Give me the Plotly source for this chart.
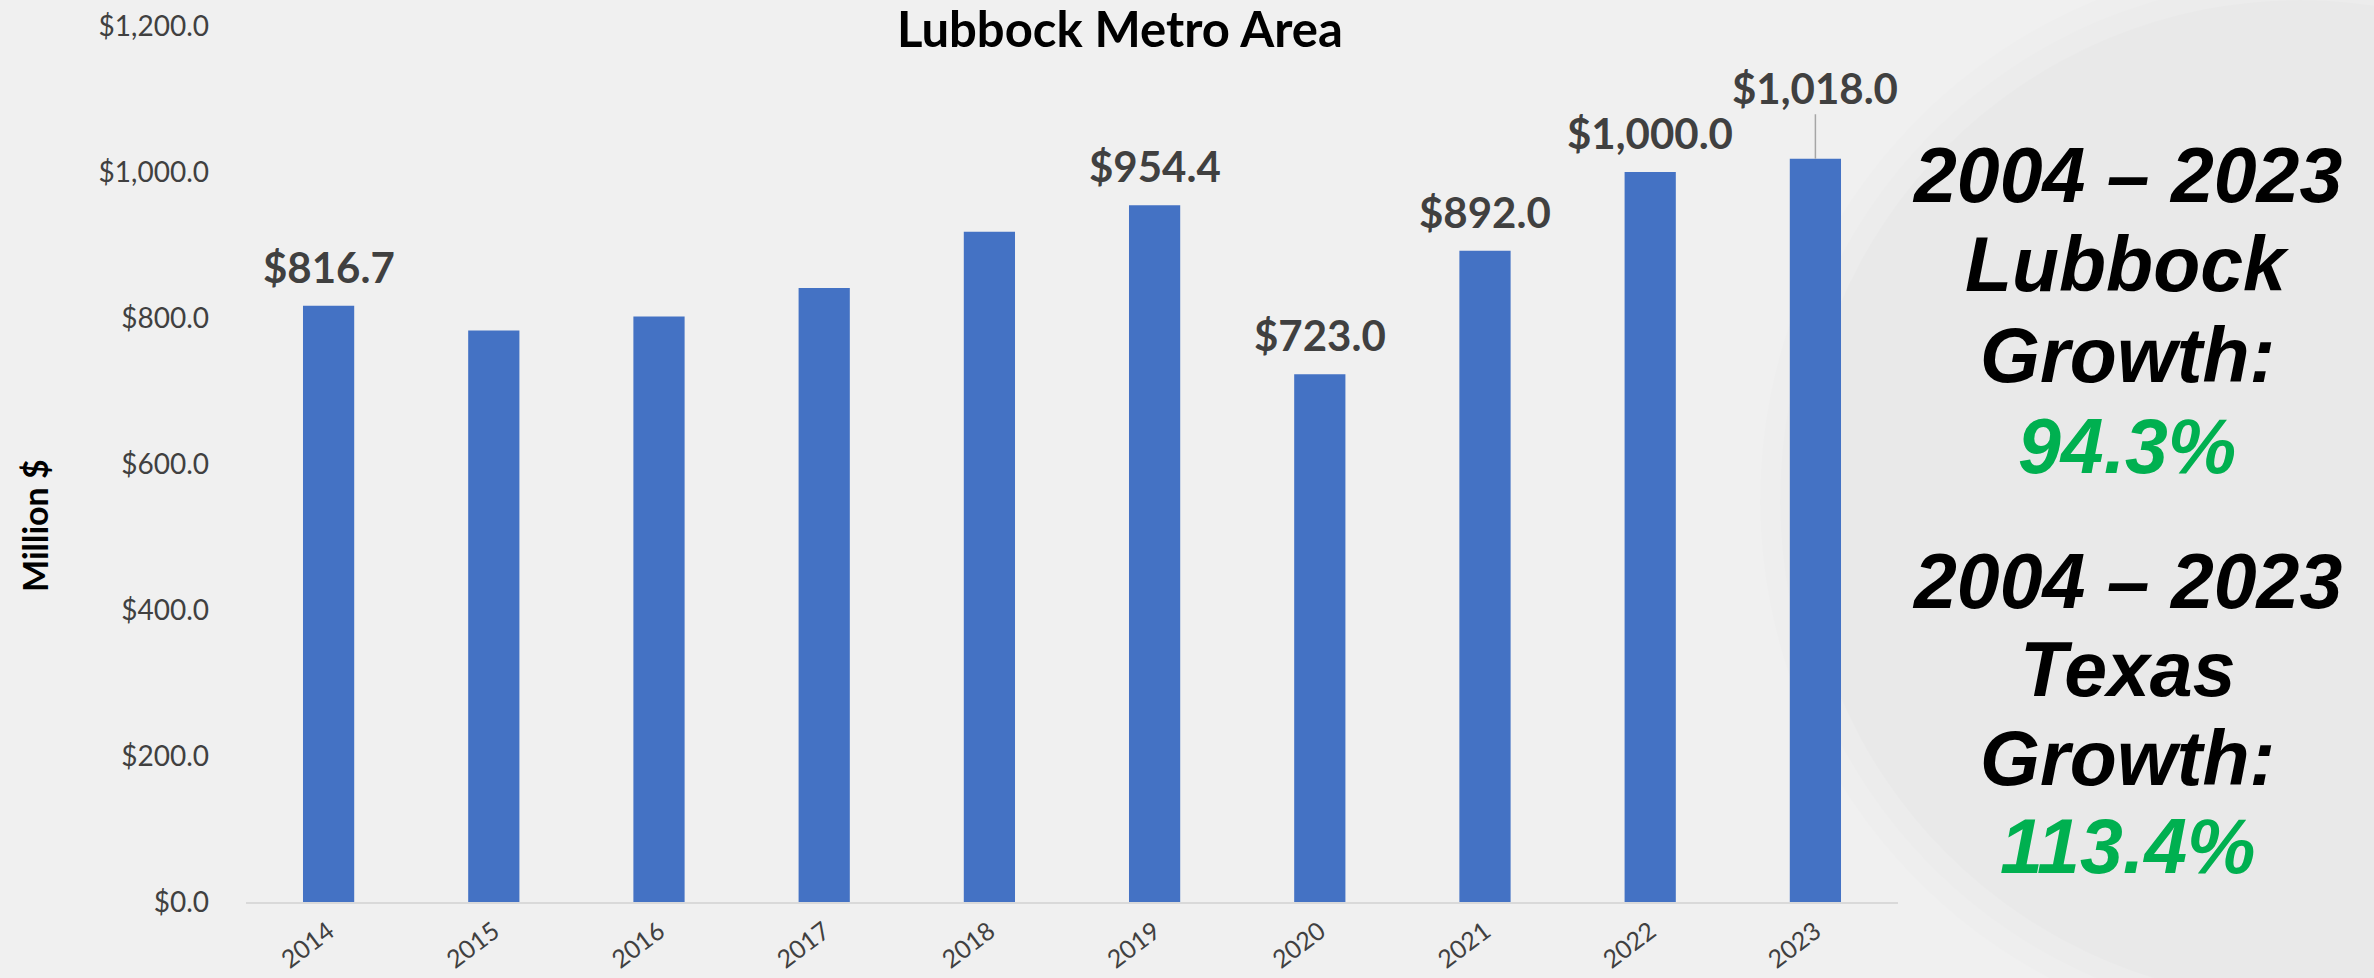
import plotly.graph_objects as go

# Lubbock metro area, million dollars per year
years = ["2014", "2015", "2016", "2017", "2018", "2019", "2020", "2021", "2022", "2023"]
values = [816.7, 783.0, 802.0, 841.0, 918.0, 954.4, 723.0, 892.0, 1000.0, 1018.0]
labeled_years = ["2014", "2019", "2020", "2021", "2022"]
leader_year = "2023"

y_ticks = [0, 200, 400, 600, 800, 1000, 1200]
y_tick_text = ["$0.0", "$200.0", "$400.0", "$600.0", "$800.0", "$1,000.0", "$1,200.0"]

growth_blocks = [
    ("2004 – 2023", "Lubbock", "Growth:", "94.3%"),
    ("2004 – 2023", "Texas", "Growth:", "113.4%"),
]

W, H = 2374, 978
L, R, T, B = 246, 476, 26, 76
PW, PH = W - L - R, H - T - B


def px_x(p):
    return (p - L) / PW


def px_y(p):
    return (H - B - p) / PH


def money(v):
    return "${:,.1f}".format(v)


LABEL_FONT = dict(family="Lato", size=42, color="#404040", weight="bold")

fig = go.Figure()
fig.add_trace(go.Bar(
    x=years, y=values,
    marker=dict(color="#4472c4", line=dict(width=0)),
    width=0.31,
    hoverinfo="skip",
))

annotations = []
for i, (yr, v) in enumerate(zip(years, values)):
    # category axis: annotations are placed by category index
    if yr in labeled_years:
        annotations.append(dict(
            x=i, y=v, xref="x", yref="y", text=money(v),
            showarrow=False, yanchor="middle", yshift=39,
            font=LABEL_FONT,
        ))
    elif yr == leader_year:
        annotations.append(dict(
            x=i, y=v, xref="x", yref="y", text=money(v),
            showarrow=True, arrowhead=0, arrowwidth=1.5, arrowcolor="#a6a6a6",
            ax=0, ay=-71, standoff=0, startstandoff=0,
            font=LABEL_FONT,
        ))

# chart title
annotations.append(dict(
    x=px_x(1120), y=px_y(28), xref="paper", yref="paper",
    text="<b>Lubbock Metro Area</b>", showarrow=False,
    xanchor="center", yanchor="middle",
    font=dict(family="Lato", size=49, color="#000000"),
))

# axis title
annotations.append(dict(
    x=px_x(34), y=px_y(526), xref="paper", yref="paper",
    text="<b>Million $</b>", showarrow=False, textangle=-90,
    xanchor="center", yanchor="middle",
    font=dict(family="Lato", size=34, color="#000000"),
))

# growth summary on the right
line_centers = [[177, 266, 357, 448], [583, 671, 760, 848]]
for block, centers in zip(growth_blocks, line_centers):
    for i, (txt, cy) in enumerate(zip(block, centers)):
        annotations.append(dict(
            x=px_x(2127), y=px_y(cy - 2), xref="paper", yref="paper",
            text="<b><i>" + txt + "</i></b>", showarrow=False,
            xanchor="center", yanchor="middle",
            font=dict(family="Liberation Sans", size=77,
                      color="#00b050" if i == 3 else "#000000"),
        ))

# faint seal in the background, soft-edged
shapes = []
for grow, alpha in [(40, 0.008), (20, 0.008), (0, 0.012)]:
    shapes.append(dict(
        type="circle", xref="paper", yref="paper", layer="below",
        x0=px_x(1800 - grow), x1=px_x(2800 + grow),
        y0=px_y(1000 + grow), y1=px_y(0 - grow),
        fillcolor="rgba(0,0,0,%s)" % alpha, line=dict(width=0),
    ))

fig.update_layout(
    width=W, height=H,
    margin=dict(l=L, r=R, t=T, b=B, pad=0),
    paper_bgcolor="#f0f0f0", plot_bgcolor="rgba(0,0,0,0)",
    showlegend=False,
    bargap=0.69,
    annotations=annotations,
    shapes=shapes,
    xaxis=dict(
        type="category", range=[-0.5, len(years) - 0.5],
        showgrid=False, showline=True, automargin=False,
        linecolor="#d9d9d9", linewidth=2, ticks="",
        tickangle=-37, ticklabelstandoff=3,
        tickfont=dict(family="Lato", size=25, color="#404040"),
        fixedrange=True,
    ),
    yaxis=dict(
        range=[0, 1200], tickvals=y_ticks, ticktext=y_tick_text,
        showgrid=False, zeroline=False, showline=False, ticks="",
        automargin=False, ticklabelstandoff=36,
        tickfont=dict(family="Lato", size=28, color="#404040"),
        fixedrange=True,
    ),
)

fig.write_html("out.html", config={"displayModeBar": False})
